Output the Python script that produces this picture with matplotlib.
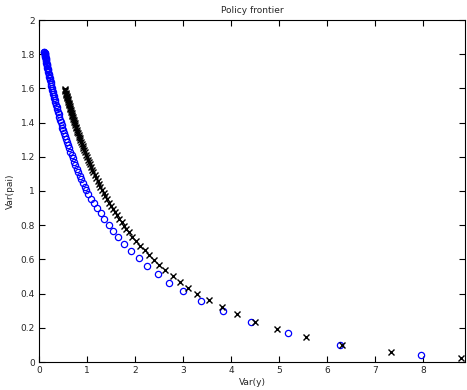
import matplotlib
matplotlib.use("Agg")
import matplotlib.pyplot as plt

# Blue circles: Var(y), Var(pai)
blue_x = [7.97, 6.28, 5.19, 4.41, 3.83, 3.37, 3.01, 2.72, 2.48, 2.26, 2.08, 1.92,
          1.78, 1.65, 1.55, 1.45, 1.36, 1.285, 1.215, 1.146, 1.083, 1.028,
          0.99, 0.955, 0.92, 0.885, 0.852, 0.82, 0.79, 0.76, 0.732, 0.705, 0.679,
          0.654, 0.630, 0.607, 0.585, 0.564, 0.544, 0.525, 0.506, 0.488, 0.471,
          0.455, 0.439, 0.424, 0.409, 0.395, 0.381, 0.368, 0.355, 0.343, 0.331,
          0.320, 0.309, 0.298, 0.288, 0.278, 0.268, 0.259, 0.250, 0.241, 0.233,
          0.225, 0.217, 0.210, 0.203, 0.196, 0.189, 0.183, 0.177, 0.171, 0.165,
          0.160, 0.155, 0.150, 0.145, 0.141, 0.137, 0.133, 0.129, 0.126, 0.123,
          0.120, 0.117, 0.115, 0.113, 0.111]
blue_y = [0.039, 0.101, 0.168, 0.234, 0.296, 0.359, 0.413, 0.464, 0.516, 0.561, 0.608, 0.651,
          0.692, 0.731, 0.768, 0.803, 0.836, 0.869, 0.901, 0.928, 0.955, 0.984,
          1.006, 1.026, 1.047, 1.069, 1.090, 1.111, 1.131, 1.151, 1.171, 1.191, 1.211,
          1.230, 1.249, 1.267, 1.286, 1.303, 1.321, 1.337, 1.355, 1.371, 1.387,
          1.402, 1.418, 1.433, 1.448, 1.462, 1.477, 1.491, 1.505, 1.518, 1.531,
          1.543, 1.556, 1.569, 1.580, 1.592, 1.604, 1.615, 1.626, 1.637, 1.647,
          1.658, 1.668, 1.677, 1.686, 1.695, 1.705, 1.713, 1.721, 1.729, 1.737,
          1.744, 1.751, 1.758, 1.765, 1.771, 1.777, 1.783, 1.788, 1.793, 1.797,
          1.801, 1.806, 1.809, 1.812, 1.815]

# Black crosses
black_x = [8.80, 7.33, 6.31, 5.56, 4.97, 4.51, 4.12, 3.81, 3.54, 3.30, 3.10, 2.93,
           2.785, 2.63, 2.51, 2.40, 2.30, 2.20, 2.11, 2.02, 1.94, 1.875,
           1.82, 1.77, 1.72, 1.67, 1.625, 1.58, 1.54, 1.50, 1.46, 1.42, 1.385,
           1.35, 1.315, 1.28, 1.25, 1.22, 1.19, 1.16, 1.135, 1.11, 1.085, 1.06,
           1.04, 1.02, 1.00, 0.98, 0.96, 0.94, 0.925, 0.91, 0.895, 0.88, 0.865,
           0.85, 0.838, 0.826, 0.814, 0.802, 0.790, 0.779, 0.768, 0.757, 0.746,
           0.736, 0.726, 0.716, 0.706, 0.697, 0.688, 0.679, 0.670, 0.662, 0.654,
           0.646, 0.638, 0.630, 0.623, 0.616, 0.609, 0.602, 0.595, 0.588, 0.582,
           0.576, 0.570, 0.564, 0.558, 0.552, 0.546, 0.540]
black_y = [0.023, 0.057, 0.101, 0.146, 0.191, 0.236, 0.278, 0.320, 0.362, 0.400, 0.435, 0.468,
           0.505, 0.536, 0.569, 0.598, 0.628, 0.655, 0.680, 0.708, 0.733, 0.758,
           0.778, 0.798, 0.817, 0.838, 0.857, 0.876, 0.894, 0.913, 0.932, 0.951, 0.969,
           0.987, 1.005, 1.024, 1.041, 1.058, 1.076, 1.094, 1.109, 1.125, 1.141, 1.157,
           1.170, 1.184, 1.197, 1.211, 1.226, 1.240, 1.251, 1.262, 1.274, 1.285, 1.297,
           1.308, 1.318, 1.328, 1.337, 1.347, 1.357, 1.367, 1.376, 1.385, 1.395,
           1.404, 1.413, 1.422, 1.431, 1.439, 1.447, 1.456, 1.464, 1.472, 1.479,
           1.487, 1.495, 1.502, 1.509, 1.516, 1.523, 1.530, 1.537, 1.545, 1.551,
           1.557, 1.563, 1.570, 1.576, 1.582, 1.589, 1.595]

xticks = [0, 1, 2, 3, 4, 5, 6, 7, 8]
yticks = [0, 0.2, 0.4, 0.6, 0.8, 1, 1.2, 1.4, 1.6, 1.8, 2]
ytick_labels = ["0", "0.2", "0.4", "0.6", "0.8", "1", "1.2", "1.4", "1.6", "1.8", "2"]

fig = plt.figure(figsize=(4.67, 3.90), dpi=100)
ax = fig.add_axes([39/467, 28/390, (465-39)/467, (362-20)/390])

ax.plot(blue_x, blue_y, linestyle="none", marker="o", markersize=4.5,
        markerfacecolor="none", markeredgecolor="#0000ff", markeredgewidth=0.9)
ax.plot(black_x, black_y, linestyle="none", marker="x", markersize=4,
        color="black", markeredgewidth=1.0)

ax.set_xlim(0, 8.88)
ax.set_ylim(0, 2)
ax.set_xticks(xticks)
ax.set_yticks(yticks)
ax.set_yticklabels(ytick_labels)
ax.tick_params(direction="in", length=4, width=0.8, labelsize=6.5,
               top=True, right=True, colors="black", labelcolor="#262626", pad=3)
for s in ax.spines.values():
    s.set_linewidth(0.8)

ax.set_title("Policy frontier", fontsize=6.5, color="#262626", pad=5)
ax.set_xlabel("Var(y)", fontsize=6.5, color="#262626", labelpad=2)
ax.set_ylabel("Var(pai)", fontsize=6.5, color="#262626", labelpad=4)

fig.savefig("out.png", dpi=100)
